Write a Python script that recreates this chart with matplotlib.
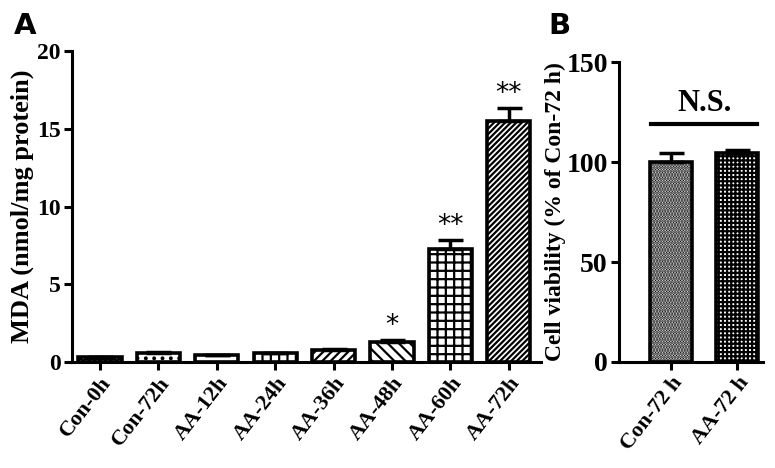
import numpy as np
import matplotlib.pyplot as plt

plt.rcParams['hatch.linewidth'] = 1.6
serif = ['Liberation Serif', 'DejaVu Serif']

# Panel A data
groups_a = ["Con-0h", "Con-72h", "AA-12h", "AA-24h", "AA-36h", "AA-48h", "AA-60h", "AA-72h"]
mda = [0.3, 0.55, 0.42, 0.55, 0.75, 1.3, 7.25, 15.5]
mda_err = [0.05, 0.08, 0.04, 0.06, 0.08, 0.12, 0.6, 0.85]
stars_a = ["", "", "", "", "", "*", "**", "**"]
hatches_a = ["xxxxxx", "..", "", "||", "////", "\\\\\\", "++", "//////"]

# Panel B data
groups_b = ["Con-72 h", "AA-72 h"]
viability = [100, 104.5]
viability_err = [4.5, 1.5]
hatches_b = ["......", "++++"]

fig = plt.figure(figsize=(7.75, 4.68), dpi=100)
ax1 = fig.add_axes([0.0929, 0.2265, 0.605, 0.6645])
ax2 = fig.add_axes([0.7987, 0.2265, 0.1858, 0.641])

for ax in (ax1, ax2):
    ax.spines['top'].set_visible(False)
    ax.spines['right'].set_visible(False)
    ax.spines['left'].set_linewidth(2.2)
    ax.spines['bottom'].set_linewidth(2.2)
    ax.tick_params(width=2.2, length=6, pad=2)

# ---- Panel A ----
x = np.arange(len(groups_a))
ax1.bar(x, mda, width=0.74, color='white', edgecolor='black', linewidth=2.6,
        hatch=hatches_a, zorder=2)
ax1.errorbar(x, mda, yerr=[np.zeros(len(mda)), mda_err], fmt='none',
             ecolor='black', elinewidth=2.5, capsize=9, capthick=2.5, zorder=3)
for xi, v, e, s in zip(x, mda, mda_err, stars_a):
    if s:
        ax1.text(xi, v + e + 0.05, s, ha='center', va='bottom', fontsize=19,
                 fontfamily='DejaVu Sans')
ax1.set_xlim(-0.48, 7.55)
ax1.set_ylim(0, 20)
ax1.set_yticks([0, 5, 10, 15, 20])
ax1.set_xticks(x)
ax1.set_xticklabels(groups_a, rotation=52, ha='right', rotation_mode='anchor',
                    fontsize=16, fontweight='bold', fontfamily=serif)
for lab in ax1.get_yticklabels():
    lab.set_fontfamily(serif)
    lab.set_fontweight('bold')
    lab.set_fontsize(17)
ax1.set_ylabel("MDA (nmol/mg protein)", fontsize=19, fontweight='bold',
               fontfamily=serif, labelpad=2)

# ---- Panel B ----
xb = np.arange(len(groups_b))
ax2.bar(xb, viability, width=0.64, color='white', edgecolor='black', linewidth=2.6,
        hatch=hatches_b, zorder=2)
ax2.errorbar(xb, viability, yerr=[np.zeros(2), viability_err], fmt='none',
             ecolor='black', elinewidth=2.5, capsize=9, capthick=2.5, zorder=3)
ax2.plot([-0.3, 1.3], [119, 119], color='black', lw=3)
ax2.text(0.5, 122, "N.S.", ha='center', va='bottom', fontsize=22,
         fontweight='bold', fontfamily=serif)
ax2.set_xlim(-0.79, 1.39)
ax2.set_ylim(0, 150)
ax2.set_yticks([0, 50, 100, 150])
ax2.set_xticks(xb)
ax2.set_xticklabels(groups_b, rotation=52, ha='right', rotation_mode='anchor',
                    fontsize=16, fontweight='bold', fontfamily=serif)
for lab in ax2.get_yticklabels():
    lab.set_fontfamily(serif)
    lab.set_fontweight('bold')
    lab.set_fontsize(20)
ax2.set_ylabel("Cell viability (% of Con-72 h)", fontsize=17, fontweight='bold',
               fontfamily=serif, labelpad=0)

fig.text(0.018, 0.975, "A", fontsize=21, fontweight='bold', fontfamily='DejaVu Sans',
         va='top')
fig.text(0.707, 0.975, "B", fontsize=21, fontweight='bold', fontfamily='DejaVu Sans',
         va='top')

fig.savefig("out.png", dpi=100)
